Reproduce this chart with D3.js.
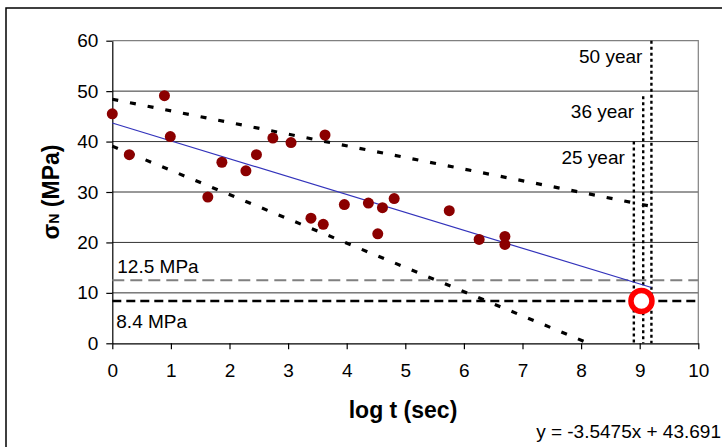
<!DOCTYPE html>
<html>
<head>
<meta charset="utf-8">
<script src="https://cdn.jsdelivr.net/npm/d3@7"></script>
<style>
  body { margin: 0; background: #fff; }
  text { font-family: Arial, "Liberation Sans", sans-serif; }
</style>
</head>
<body>
<svg id="chart" width="722" height="447"></svg>
<script>
// measured data (log t, stress MPa)
var logT   = [0, 0.29, 0.89, 0.99, 1.63, 1.87, 2.28, 2.46, 2.74, 3.05, 3.39, 3.60, 3.63, 3.96, 4.37, 4.53, 4.61, 4.81, 5.75, 6.26, 6.70, 6.70];
var stress = [45.5, 37.4, 49.1, 41.0, 29.0, 35.9, 34.2, 37.4, 40.7, 39.8, 24.8, 23.6, 41.3, 27.5, 27.8, 21.7, 26.9, 28.7, 26.3, 20.6, 21.2, 19.6];

var slope = -3.5475, intercept = 43.691;
var fitEnd = 9.2;
var upperBound = [[0, 48.4], [9.18, 27.2]];
var lowerBound = [[0, 39.1], [8.13, 0]];

var limits = [
  { value: 12.5, label: '12.5 MPa' },
  { value: 8.4, label: '8.4 MPa' }
];
var lifetimes = [
  { label: '25 year', x: 8.9, top: 40 },
  { label: '36 year', x: 9.06, top: 49 },
  { label: '50 year', x: 9.2, top: 60 }
];
var target = { x: 9.03, y: 8.4 };

var xTicks = [0, 1, 2, 3, 4, 5, 6, 7, 8, 9, 10];
var yTicks = [0, 10, 20, 30, 40, 50, 60];

var svg = d3.select('#chart');

var x = d3.scaleLinear().domain([0, 10]).range([112.3, 698.3]);
var y = d3.scaleLinear().domain([0, 60]).range([343.3, 40.7]);

// outer chart border
svg.append('rect')
  .attr('x', 6).attr('y', 8).attr('width', 730).attr('height', 460)
  .attr('fill', 'none').attr('stroke', '#000').attr('stroke-width', 1.5);

// gridlines
svg.append('g').selectAll('line')
  .data(yTicks.filter(function(d) { return d > 0 && d < 60; }))
  .join('line')
  .attr('x1', x(0)).attr('x2', x(10))
  .attr('y1', function(d) { return y(d); }).attr('y2', function(d) { return y(d); })
  .attr('stroke', '#333').attr('stroke-width', 1);

// plot border top/right
svg.append('path')
  .attr('d', 'M' + x(0) + ',' + y(60) + 'H' + x(10) + 'V' + y(0))
  .attr('fill', 'none').attr('stroke', '#808080').attr('stroke-width', 1.2);

// axes
var xAxis = svg.append('g')
  .attr('transform', 'translate(0,' + y(0) + ')')
  .call(d3.axisBottom(x).tickValues(xTicks).tickSize(6).tickSizeOuter(0).tickPadding(14));
var yAxis = svg.append('g')
  .attr('transform', 'translate(' + x(0) + ',0)')
  .call(d3.axisLeft(y).tickValues(yTicks).tickSize(6).tickSizeOuter(0).tickPadding(8));
[xAxis, yAxis].forEach(function(g) {
  g.select('.domain').attr('stroke', '#000').attr('stroke-width', 1.2);
  g.selectAll('.tick line').attr('stroke', '#000').attr('stroke-width', 1.2);
  g.selectAll('.tick text').attr('font-size', 19).attr('fill', '#000')
    .attr('font-family', 'Arial, "Liberation Sans", sans-serif');
});

// horizontal limit lines
svg.append('line')
  .attr('x1', x(0)).attr('x2', x(10))
  .attr('y1', y(limits[0].value)).attr('y2', y(limits[0].value))
  .attr('stroke', '#808080').attr('stroke-width', 2).attr('stroke-dasharray', '12,6');
svg.append('line')
  .attr('x1', x(0)).attr('x2', x(10))
  .attr('y1', y(limits[1].value)).attr('y2', y(limits[1].value))
  .attr('stroke', '#000').attr('stroke-width', 2.5).attr('stroke-dasharray', '9,5');

svg.append('text').attr('x', x(0) + 5).attr('y', y(limits[0].value) - 7)
  .attr('font-size', 19).text(limits[0].label);
svg.append('text').attr('x', x(0) + 4).attr('y', y(limits[1].value) + 27)
  .attr('font-size', 19).text(limits[1].label);

// confidence bounds
var line = d3.line().x(function(d) { return x(d[0]); }).y(function(d) { return y(d[1]); });
[upperBound, lowerBound].forEach(function(b) {
  svg.append('path').attr('d', line(b))
    .attr('fill', 'none').attr('stroke', '#000').attr('stroke-width', 3.2)
    .attr('stroke-dasharray', '6,12');
});

// lifetime verticals
svg.append('g').selectAll('line').data(lifetimes).join('line')
  .attr('x1', function(d) { return x(d.x); }).attr('x2', function(d) { return x(d.x); })
  .attr('y1', function(d) { return y(d.top); }).attr('y2', y(0))
  .attr('stroke', '#000').attr('stroke-width', 2.4).attr('stroke-dasharray', '3,3');
svg.append('g').selectAll('text').data(lifetimes).join('text')
  .attr('x', function(d) { return x(d.x) - 9; })
  .attr('y', function(d) { return y(d.top) + 22; })
  .attr('text-anchor', 'end').attr('font-size', 19)
  .text(function(d) { return d.label; });

// regression line
svg.append('line')
  .attr('x1', x(0)).attr('y1', y(intercept))
  .attr('x2', x(fitEnd)).attr('y2', y(slope * fitEnd + intercept))
  .attr('stroke', '#3333bb').attr('stroke-width', 1.2);

// data points
svg.append('g').selectAll('circle').data(logT).join('circle')
  .attr('cx', function(d) { return x(d); })
  .attr('cy', function(d, i) { return y(stress[i]); })
  .attr('r', 5.5).attr('fill', '#8b0000');

// target ring
svg.append('circle')
  .attr('cx', x(target.x)).attr('cy', y(target.y)).attr('r', 10.5)
  .attr('fill', '#fff').attr('stroke', '#ff0000').attr('stroke-width', 5.5);

// axis titles
svg.append('text').attr('x', 403).attr('y', 418).attr('text-anchor', 'middle')
  .attr('font-size', 23).attr('font-weight', 'bold').text('log t (sec)');

var yt = svg.append('text')
  .attr('transform', 'translate(59,' + 192 + ') rotate(-90)')
  .attr('text-anchor', 'middle').attr('font-size', 23).attr('font-weight', 'bold');
yt.append('tspan').text('σ');
yt.append('tspan').attr('font-size', 14).text('N');
yt.append('tspan').text(' (MPa)');

svg.append('text').attr('x', 721).attr('y', 438).attr('text-anchor', 'end')
  .attr('font-size', 19).text('y = ' + slope + 'x + ' + intercept);
</script>
</body>
</html>
